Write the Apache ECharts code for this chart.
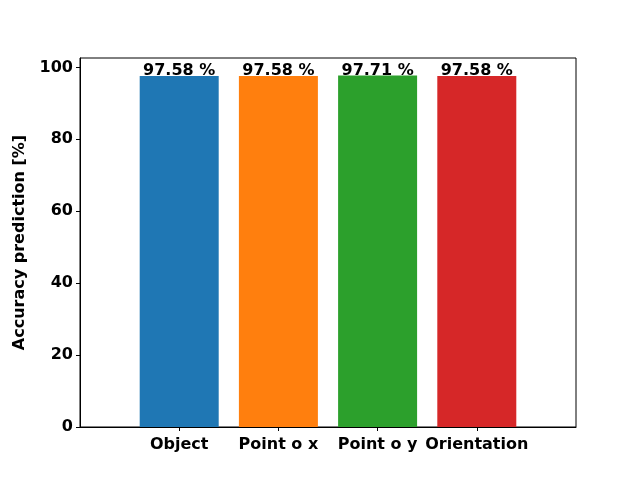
<!DOCTYPE html>
<html><head><meta charset="utf-8">
<script src="https://cdn.jsdelivr.net/npm/echarts@6/dist/echarts.min.js"></script>
<style>html,body{margin:0;padding:0;background:#fff}#c{width:640px;height:480px}</style>
</head><body><div id="c"></div>
<script>
const categories = ["Object", "Point o x", "Point o y", "Orientation"];
const values = [97.58, 97.58, 97.71, 97.58];
const colors = ["#1f77b4", "#ff7f0e", "#2ca02c", "#d62728"];
const yTicks = [0, 20, 40, 60, 80, 100];
const xTicks = [0, 1, 2, 3];

const font = "DejaVu Sans";
const chart = echarts.init(document.getElementById('c'), null, {renderer: 'canvas'});
chart.setOption({
  animation: false,
  backgroundColor: '#fff',
  grid: {left: 80, right: 64, top: 58, bottom: 53, show: true, borderColor: '#000', borderWidth: 1, backgroundColor: 'transparent'},
  xAxis: {
    type: 'value', position: 'bottom', min: -1, max: 4, interval: 1,
    splitLine: {show: false},
    axisLine: {show: true, onZero: false, lineStyle: {color: '#000', width: 1}},
    axisTick: {show: true, inside: false, length: 4, lineStyle: {color: '#000'}, customValues: xTicks},
    axisLabel: {
      customValues: xTicks,
      formatter: v => categories[v] ?? '',
      fontFamily: font, fontWeight: 'bold', fontSize: 16, color: '#000', margin: 10
    }
  },
  yAxis: {
    type: 'value', position: 'left', min: 0, max: 102.6,
    name: 'Accuracy prediction [%]', nameLocation: 'middle', nameGap: 52,
    nameTextStyle: {fontFamily: font, fontWeight: 'bold', fontSize: 16, color: '#000'},
    splitLine: {show: false},
    axisLine: {show: true, onZero: false, lineStyle: {color: '#000', width: 1}},
    axisTick: {show: true, length: 4, lineStyle: {color: '#000'}, customValues: yTicks},
    axisLabel: {customValues: yTicks, fontFamily: font, fontWeight: 'bold', fontSize: 16, color: '#000', margin: 7}
  },
  series: [{
    type: 'bar',
    barWidth: 79,
    data: values.map((v, i) => ({value: [i, v], itemStyle: {color: colors[i]}})),
    label: {
      show: true, position: 'top', distance: -3,
      formatter: p => p.value[1].toFixed(2) + ' %',
      fontFamily: font, fontWeight: 'bold', fontSize: 16, color: '#000'
    }
  }]
});
</script></body></html>
